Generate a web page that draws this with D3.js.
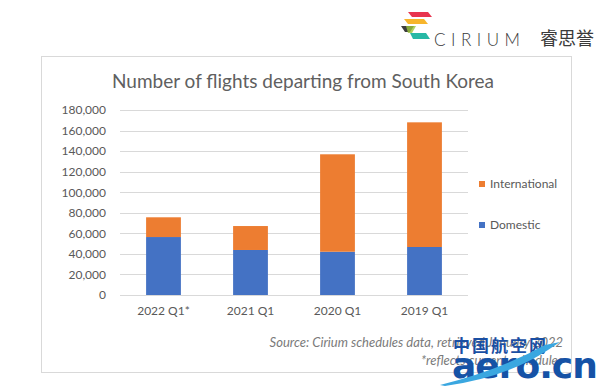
<!DOCTYPE html>
<html>
<head>
<meta charset="utf-8">
<script src="https://cdn.jsdelivr.net/npm/d3@7"></script>
<style>
  body { margin: 0; background: #fff; }
  svg text { font-family: Lato, 'Open Sans', sans-serif; }
</style>
</head>
<body>
<svg id="fig" width="607" height="386"></svg>
<script>
'use strict';

// data
const quarters = ['2022 Q1*', '2021 Q1', '2020 Q1', '2019 Q1'];
const domestic = [56400, 43800, 42100, 46700];
const international = [19200, 23300, 94800, 121300];
const series_names = ['Domestic', 'International'];
const y_ticks = [0, 20000, 40000, 60000, 80000, 100000, 120000, 140000, 160000, 180000];

const colors = { Domestic: '#4472c4', International: '#ed7d31' };
const text_color = '#595959';

const svg = d3.select('#fig');

// chart frame
svg.append('rect')
    .attr('x', 41.5).attr('y', 56.5)
    .attr('width', 530).attr('height', 316)
    .attr('fill', '#fff')
    .attr('stroke', '#d9d9d9');

const x = d3.scaleBand()
    .domain(quarters)
    .range([120, 468])
    .paddingInner(0.6)
    .paddingOuter(0.3);

const y = d3.scaleLinear()
    .domain([0, 180000])
    .range([295, 110]);

// gridlines
svg.append('g')
    .selectAll('line')
    .data(y_ticks)
    .enter()
    .append('line')
    .attr('x1', 120).attr('x2', 468)
    .attr('y1', d => Math.round(y(d)) + 0.5)
    .attr('y2', d => Math.round(y(d)) + 0.5)
    .attr('stroke', '#d9d9d9');

// y axis labels
const y_axis = svg.append('g')
    .attr('transform', 'translate(106,0)')
    .call(d3.axisLeft(y).tickValues(y_ticks).tickSize(0).tickPadding(0)
        .tickFormat(d3.format(',')));
y_axis.select('.domain').remove();
y_axis.selectAll('text')
    .attr('fill', text_color)
    .style('font-size', '12px');

// stacked bars
const rows = quarters.map((q, i) => ({ q: q, Domestic: domestic[i], International: international[i] }));
const stacked = d3.stack().keys(series_names)(rows);

svg.append('g')
    .selectAll('g')
    .data(stacked)
    .enter()
    .append('g')
    .attr('fill', d => colors[d.key])
    .selectAll('rect')
    .data(d => d)
    .enter()
    .append('rect')
    .attr('x', d => x(d.data.q))
    .attr('width', x.bandwidth())
    .attr('y', d => y(d[1]))
    .attr('height', d => y(d[0]) - y(d[1]));

// x axis labels
const x_axis = svg.append('g')
    .attr('transform', 'translate(0,306)')
    .call(d3.axisBottom(x).tickSize(0).tickPadding(0));
x_axis.select('.domain').remove();
x_axis.selectAll('text')
    .attr('fill', text_color)
    .style('font-size', '12px');

// title
svg.append('text')
    .attr('x', 303).attr('y', 88)
    .attr('text-anchor', 'middle')
    .attr('fill', '#606060')
    .style('font-size', '19px')
    .text('Number of flights departing from South Korea');

// legend
const legend = svg.append('g')
    .selectAll('g')
    .data(['International', 'Domestic'])
    .enter()
    .append('g')
    .attr('transform', (d, i) => 'translate(479,' + (184 + i * 41) + ')');
legend.append('rect')
    .attr('x', 0).attr('y', -3)
    .attr('width', 6).attr('height', 6)
    .attr('fill', d => colors[d]);
legend.append('text')
    .attr('x', 11).attr('y', 0)
    .attr('dy', '0.35em')
    .attr('fill', text_color)
    .style('font-size', '12px')
    .text(d => d);

// source note
const note = svg.append('g').attr('fill', '#7a7a7a')
    .style('font-size', '13px').style('font-style', 'italic');
note.append('text')
    .attr('x', 563).attr('y', 347)
    .attr('text-anchor', 'end')
    .text('Source:  Cirium schedules data, retrieved January 2022');
note.append('text')
    .attr('x', 563).attr('y', 365)
    .attr('text-anchor', 'end')
    .text('*reflects current schedules');

// cirium logo
const logo = svg.append('g');
logo.append('polygon').attr('points', '408,12 428,12 432,17 412,17').attr('fill', '#e8344f');
logo.append('polygon').attr('points', '404,19 424,19 428,24 408,24').attr('fill', '#f7b52c');
logo.append('polygon').attr('points', '401,26 414,26 410,32 405,32').attr('fill', '#3d3d3d');
logo.append('polygon').attr('points', '410,33 426,33 430,39 413,39').attr('fill', '#27b8a5');
logo.append('polygon').attr('points', '406,26 416,26 412,33 408,33').attr('fill', '#9bc43c').attr('opacity', 0.8);
logo.append('text')
    .attr('x', 434).attr('y', 46)
    .attr('fill', '#3a3a3a')
    .style('font-size', '17px')
    .style('font-weight', '300')
    .style('letter-spacing', '5.5px')
    .text('CIRIUM');
logo.append('text')
    .attr('x', 540).attr('y', 45)
    .attr('fill', '#3a3a3a')
    .style('font-family', "'Noto Sans CJK SC'")
    .style('font-size', '18px')
    .text('睿思誉');

// watermark
const wm = svg.append('g');
wm.append('text')
    .attr('x', 453).attr('y', 352)
    .attr('fill', '#1a4fa3')
    .style('font-family', "'Noto Sans CJK SC'")
    .style('font-weight', 'bold')
    .style('font-size', '17px')
    .style('letter-spacing', '2px')
    .text('中国航空网');
wm.append('text')
    .attr('x', 452).attr('y', 378)
    .attr('fill', '#1552a6')
    .style('font-family', "'DejaVu Sans'")
    .style('font-weight', 'bold')
    .style('font-size', '36px')
    .style('letter-spacing', '-1px')
    .text('aero.cn');
wm.append('path')
    .attr('d', 'M 440 385 Q 500 370 545 345 L 560 342 L 548 350 Q 505 378 445 386 Z')
    .attr('fill', '#3aa7e0');
</script>
</body>
</html>
